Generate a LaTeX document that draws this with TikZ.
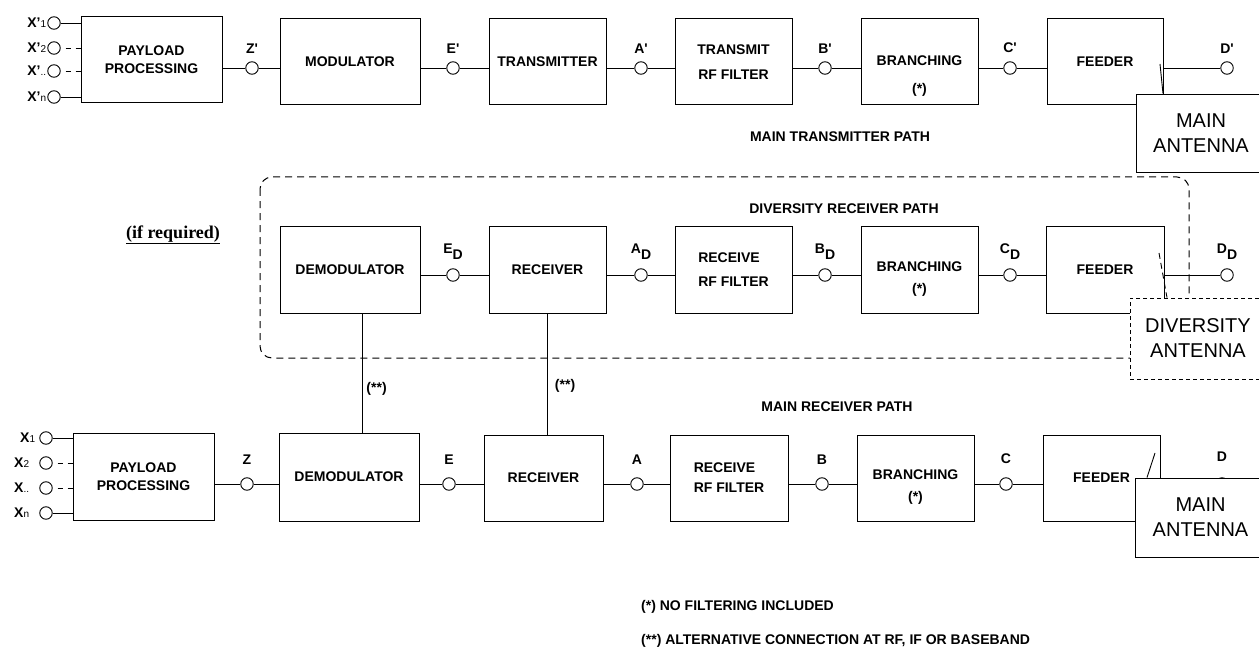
\documentclass[tikz,border=0pt]{standalone}
\usepackage{fontspec}
\setmainfont{Liberation Sans}
\newfontfamily\serifbf{Liberation Serif}
\usetikzlibrary{positioning}
\newcommand\ix[1]{{\fontsize{10}{10}\selectfont\mdseries #1}}
\newcommand\dsub[1]{#1\raisebox{-6pt}{D}}
\newcommand\pr{\textquotesingle}
\tikzset{
  blk/.style={draw, line width=1pt, align=center, inner sep=0pt,
    font=\bfseries\fontsize{14}{18}\selectfont},
  term/.style={draw, circle, line width=0.9pt, minimum size=12.5pt, inner sep=0pt, fill=white},
  wire/.style={line width=0.9pt},
  sdash/.style={dash pattern=on 5pt off 5pt, dash phase=5pt},
  tag/.style={font=\bfseries\fontsize{14}{18}\selectfont, inner sep=1pt},
  ant/.style={draw, line width=0.9pt, fill=white, align=center, inner sep=0pt,
    font=\fontsize{20}{25}\selectfont},
  frame/.style={line width=1pt, dash pattern=on 7pt off 5pt, rounded corners=12pt},
}
\begin{document}
\begin{tikzpicture}[x=1pt, y=-1pt]
\useasboundingbox (0,0) rectangle (1259,650);

% frame of the diversity receiver path
\draw[frame] (260,177) rectangle (1189,358);

% main transmitter path
\node[blk, minimum width=141pt, minimum height=86pt] (tpp) at (151.5,60) {PAYLOAD\\PROCESSING};
\node[blk, minimum width=140pt, minimum height=86pt] (tmod) at (350,62) {MODULATOR};
\node[blk, minimum width=117pt, minimum height=86pt] (ttx) at (547.5,62) {TRANSMITTER};
\node[blk, minimum width=117pt, minimum height=86pt] (trf) at (733.5,62) {TRANSMIT\\[7pt]RF FILTER};
\node[blk, minimum width=117pt, minimum height=86pt] (tbr) at (919.5,62) {};
\node[tag, align=center, yshift=-14pt] at (tbr) {BRANCHING\\[10pt](*)};
\node[blk, minimum width=116pt, minimum height=86pt] (tfd) at (1105,62) {FEEDER};
\foreach \n/\x in {tz/252, te/453, ta/641, tb/825, tc/1010, td/1227}
  \node[term] (\n) at (\x,68) {};
\foreach \n/\t in {tz/Z\pr, te/E\pr, ta/A\pr, tb/B\pr, tc/C\pr, td/D\pr}
  \node[tag, above=7pt] at (\n.north) {\t};
\foreach \a/\c/\b in {tpp/tz/tmod, tmod/te/ttx, ttx/ta/trf, trf/tb/tbr, tbr/tc/tfd} {
  \draw[wire] (\c -| \a.east) -- (\c);
  \draw[wire] (\c) -- (\c -| \b.west);
}
\draw[wire] (td -| tfd.east) -- (td);
\foreach \i/\y/\l/\s in {1/23/{X'\ix{1}}/solid, 2/48/{X'\ix{2}}/sdash,
    3/71/{X'\ix{..}}/sdash, 4/97/{X'\ix{n}}/solid} {
  \node[term] (tx\i) at (54,\y) {};
  \node[tag, left=0pt] at (tx\i.west) {\l};
  \draw[wire, \s] (tx\i) -- (tx\i -| tpp.west);
}
\node[tag] (tpath) at (840,137) {MAIN TRANSMITTER PATH};

% diversity receiver path
\node[font=\serifbf\bfseries\fontsize{18}{20}\selectfont] (ifreq) at (173,235) {\underline{(if required)}};
\node[tag] (dpath) at (844,209) {DIVERSITY RECEIVER PATH};
\node[blk, minimum width=140pt, minimum height=87pt] (ddem) at (350,269.5) {DEMODULATOR};
\node[blk, minimum width=117pt, minimum height=87pt] (drx) at (547.5,269.5) {RECEIVER};
\node[blk, minimum width=117pt, minimum height=87pt, align=left] (drf) at (733.5,269.5) {RECEIVE\\[6pt]RF FILTER};
\node[blk, minimum width=117pt, minimum height=87pt] (dbr) at (919.5,269.5) {};
\node[tag, align=center, yshift=-9.5pt] at (dbr) {BRANCHING\\[4pt](*)};
\node[blk, minimum width=118pt, minimum height=87pt] (dfd) at (1105,269.5) {FEEDER};
\foreach \n/\x in {de/453, da/641, db/825, dc/1010, dd/1227}
  \node[term] (\n) at (\x,275) {};
\foreach \n/\t in {de/E, da/A, db/B, dc/C, dd/D}
  \node[tag, above=8pt] at (\n.north) {\dsub{\t}};
\foreach \a/\c/\b in {ddem/de/drx, drx/da/drf, drf/db/dbr, dbr/dc/dfd} {
  \draw[wire] (\c -| \a.east) -- (\c);
  \draw[wire] (\c) -- (\c -| \b.west);
}
\draw[wire] (dd -| dfd.east) -- (dd);
\coordinate (dsw) at (1159,253);

% main receiver path
\node[tag] (mpath) at (837,407) {MAIN RECEIVER PATH};
\node[blk, minimum width=141pt, minimum height=87pt] (mpp) at (143.5,476.5) {PAYLOAD\\PROCESSING};
\node[blk, minimum width=140pt, minimum height=88pt] (mdem) at (349,477) {DEMODULATOR};
\node[blk, minimum width=119pt, minimum height=86pt] (mrx) at (543.5,478) {RECEIVER};
\node[blk, minimum width=118pt, minimum height=86pt, align=left] (mrf) at (729,478) {RECEIVE\\[2pt]RF FILTER};
\node[blk, minimum width=117pt, minimum height=86pt] (mbr) at (915.5,478) {};
\node[tag, align=center, yshift=-9pt] at (mbr) {BRANCHING\\[4pt](*)};
\node[blk, minimum width=117pt, minimum height=86pt] (mfd) at (1101.5,478) {FEEDER};
\foreach \n/\x in {mz/247, me/449, ma/637, mb/822, mc/1006, md/1222}
  \node[term] (\n) at (\x,484) {};
\foreach \n/\t in {mz/Z, me/E, ma/A, mb/B, mc/C}
  \node[tag, above=12pt] at (\n.north) {\t};
\node[tag, above=15pt] at (md.north) {D};
\foreach \a/\c/\b in {mpp/mz/mdem, mdem/me/mrx, mrx/ma/mrf, mrf/mb/mbr, mbr/mc/mfd} {
  \draw[wire] (\c -| \a.east) -- (\c);
  \draw[wire] (\c) -- (\c -| \b.west);
}
\draw[wire] (md -| mfd.east) -- (md);
\foreach \i/\y/\l/\s/\g in {1/438/{X\ix{1}}/solid/3pt, 2/463/{X\ix{2}}/sdash/9pt,
    3/488/{X\ix{..}}/sdash/9pt, 4/513/{X\ix{n}}/solid/9pt} {
  \node[term] (mx\i) at (46,\y) {};
  \node[tag, left=\g] at (mx\i.west) {\l};
  \draw[wire, \s] (mx\i) -- (mx\i -| mpp.west);
}

% alternative connections
\draw[wire] ([xshift=12pt]ddem.south) -- ([xshift=12pt]ddem.south |- mdem.north)
  node[tag, pos=0.63, right=3pt] {(**)};
\draw[wire] (drx.south) -- (drx.south |- mrx.north)
  node[tag, pos=0.6, right=6pt] {(**)};

% antennas
\coordinate (tsw) at (1160,64);
\coordinate (msw) at (1155,453);
\node[ant, minimum width=130pt, minimum height=78pt] (tant) at (1201,133) {MAIN\\ANTENNA};
\draw[wire] (tsw) -- ([xshift=3pt]tsw |- tant.north);
\node[ant, dash pattern=on 4pt off 3pt, line width=0.7pt, minimum width=136pt, minimum height=81pt]
  (dant) at (1198,338.5) {DIVERSITY\\ANTENNA};
\draw[wire, dash pattern=on 6pt off 4pt] (dsw) -- ([xshift=8pt]dsw |- dant.north);
\node[ant, minimum width=131pt, minimum height=79pt] (mant) at (1200.5,517.5) {MAIN\\ANTENNA};
\draw[wire] (msw) -- ([xshift=-8pt]msw |- mant.north);

% notes
\node[tag, anchor=west] (note1) at (640,607) {(*) NO FILTERING INCLUDED};
\node[tag, anchor=west] (note2) at (640,641) {(**) ALTERNATIVE CONNECTION AT RF, IF OR BASEBAND};
\end{tikzpicture}
\end{document}
